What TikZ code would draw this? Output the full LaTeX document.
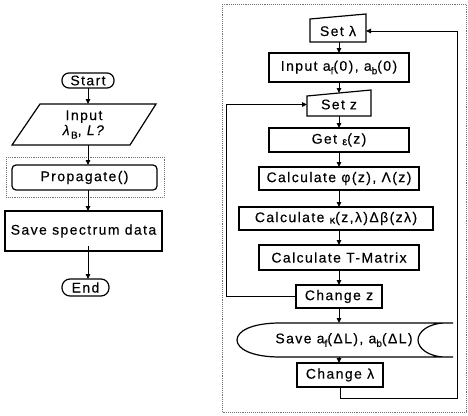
\documentclass[tikz,border=0pt]{standalone}
\usepackage{fontspec}
\setmainfont[LetterSpace=10,FakeBold=0.3]{Liberation Sans}
\usetikzlibrary{arrows.meta}

% lowered small letters used as subscripts and small Greek symbols
\newcommand{\lsub}[1]{\raisebox{-3.5pt}{\fontsize{10}{10}\selectfont #1}}
\newcommand{\lowgr}[1]{\raisebox{-1.5pt}{\fontsize{11}{11}\selectfont #1}}

\begin{document}
\begin{tikzpicture}[x=1pt,y=-1pt,
  every node/.style={font=\fontsize{14}{16}\selectfont, inner sep=0pt, outer sep=0pt},
  frame/.style={draw, line width=1.2pt},
  ghost/.style={inner sep=0pt},
  wire/.style={line width=1.2pt},
  link/.style={line width=1pt, -{Triangle[length=5pt,width=4.5pt]}},
  dotframe/.style={draw=black!55, line width=0.9pt, densely dotted}]
\useasboundingbox (0,0) rectangle (468,415);

% ---------------- main program ----------------
\node[frame, rounded corners=7pt, minimum width=52pt, minimum height=15pt] (start) at (88,80.5) {Start};

\draw[wire] (40,104) -- (156,104) -- (130,145) -- (12,145) -- cycle;
\node[ghost, align=center, minimum width=117pt, minimum height=41pt] (inp) at (84,124.5)
  {Input\\[-1pt]\textit{λ}\lsub{B}, \textit{L?}};

\draw[dotframe] (6,157) rectangle (164,197);
\node[frame, rounded corners=4pt, minimum width=145pt, minimum height=25pt] (prop) at (84.5,177.5) {Propagate()};

\node[frame, minimum width=157pt, minimum height=40pt] (savespec) at (83.5,231) {Save spectrum data};

\node[frame, rounded corners=8pt, minimum width=47pt, minimum height=17pt] (end) at (85.5,287.5) {End};

\draw[link] (start.south) -- (start.south |- inp.north);
\draw[link] (start.south |- inp.south) -- (start.south |- prop.north);
\draw[link] (start.south |- prop.south) -- (start.south |- savespec.north);
\draw[link] ([yshift=5pt]start.south |- savespec.south) -- (start.south |- end.north);

% ---------------- Propagate() ----------------
\draw[dotframe] (222,4) rectangle (466,412);

\draw[wire] (310,19) -- (366,14) -- (366,42) -- (310,42) -- cycle;
\node[ghost, minimum width=56pt, minimum height=22pt] (setlam) at (338,31) {Set λ};

\node[frame, minimum width=140pt, minimum height=29pt] (input) at (339,67.5)
  {Input a\lsub{f}(0), a\lsub{b}(0)};

\draw[wire] (307,96) -- (371,90) -- (371,116) -- (307,116) -- cycle;
\node[ghost, minimum width=64pt, minimum height=23pt] (setz) at (339,104.5) {Set\hspace{5pt}z};

\node[frame, minimum width=140pt, minimum height=24pt] (gete) at (339,140) {Get \lowgr{ε}(z)};

\node[frame, minimum width=160pt, minimum height=23pt] (calcphi) at (339,178.5) {Calculate φ(z), Λ(z)};

\node[frame, minimum width=194pt, minimum height=23pt] (calckap) at (336,218.5)
  {Calculate \lowgr{κ}(z,λ)Δβ(zλ)};

\node[frame, minimum width=160pt, minimum height=25pt] (calct) at (339,257.5) {Calculate T-Matrix};

\node[frame, minimum width=86pt, minimum height=23pt] (changez) at (339,296.5) {Change z};

% stored-data shape for the save step
\draw[wire] (280,323) -- (453,323)
  (280,357) -- (453,357)
  (280,323) .. controls (252,323) and (237,331) .. (237,340)
            .. controls (237,349) and (252,357) .. (280,357)
  (446,323) .. controls (428,323) and (418,332) .. (418,340)
            .. controls (418,348) and (428,357) .. (446,357);
\node[ghost, minimum width=140pt, minimum height=34pt] (save) at (344,340)
  {Save a\lsub{f}(ΔL), a\lsub{b}(ΔL)};

\node[frame, minimum width=86pt, minimum height=24pt] (changelam) at (340,375) {Change λ};

\draw[link] (setlam.south -| input.north) -- (input.north);
\draw[link] (input.south) -- (setz.north);
\draw[link] (setz.south) -- (gete.north);
\draw[link] (gete.south) -- (calcphi.north);
\draw[link] (calcphi.south) -- (calcphi.south |- calckap.north);
\draw[link] (calcphi.south |- calckap.south) -- (calct.north);
\draw[link] (calct.south) -- (changez.north);
\draw[link] (changez.south) -- (changez.south |- save.north);
\draw[link] (changez.south |- save.south) -- (changez.south |- changelam.north);

% loop over z
\coordinate (lx) at (226,0);
\draw[link] (changez.west) -- (changez.west -| lx) -- (setz.west -| lx) -- (setz.west);

% loop over wavelength
\coordinate (rc) at (457,398);
\draw[link] (changelam.south) -- (changelam.south |- rc) -- (rc) -- (rc |- setlam.east) -- (setlam.east);
\end{tikzpicture}
\end{document}
